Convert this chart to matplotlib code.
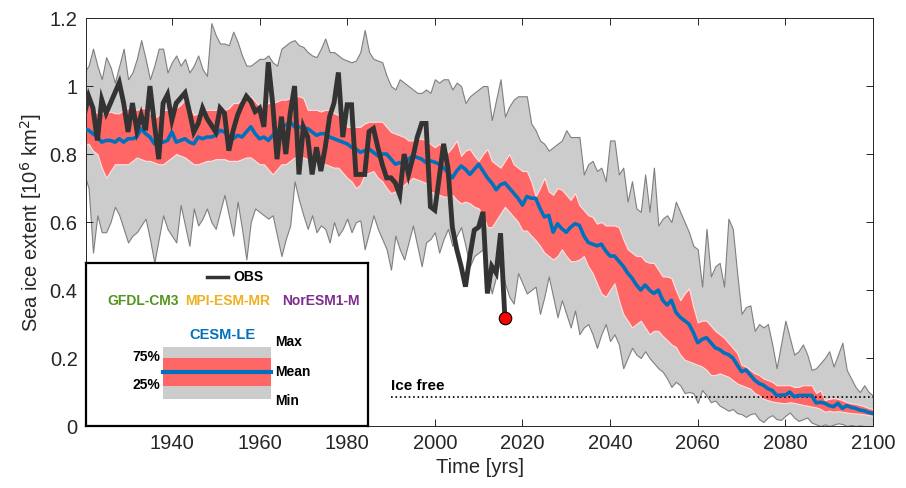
import numpy as np
from matplotlib import pyplot as plt

plt.rcParams['font.family'] = ['Liberation Sans', 'DejaVu Sans']

years = np.arange(1920, 2101)
obs_years = np.arange(1920, 2017)

# CESM-LE ensemble statistics (10^6 km^2)
ens_max = [1.04, 1.06, 1.11, 1.06, 1.02, 1.085, 1.056, 1.01, 1.06, 1.11,
           1.02, 1.04, 1.08, 1.135, 1.08, 1.02, 1.06, 1.11, 1.11, 1.04,
           1.07, 1.09, 1.06, 1.08, 1.04, 1.06, 1.09, 1.05, 1.03, 1.185,
           1.15, 1.125, 1.125, 1.12, 1.16, 1.13, 1.09, 1.06, 1.06, 1.07,
           1.08, 1.08, 1.09, 1.07, 1.06, 1.11, 1.12, 1.13, 1.135, 1.12,
           1.115, 1.10, 1.09, 1.085, 1.11, 1.14, 1.10, 1.10, 1.09, 1.08,
           1.075, 1.07, 1.075, 1.10, 1.165, 1.10, 1.08, 1.075, 1.07, 1.03,
           1.00, 0.99, 1.02, 1.01, 1.00, 0.99, 0.98, 0.98, 0.99, 0.98,
           1.02, 1.01, 1.02, 1.02, 0.99, 1.01, 1.00, 0.95, 0.97, 0.98,
           0.99, 1.00, 1.00, 0.90, 0.96, 1.02, 0.91, 0.94, 0.96, 0.97,
           0.97, 0.97, 0.89, 0.87, 0.84, 0.83, 0.81, 0.82, 0.83, 0.84,
           0.87, 0.85, 0.85, 0.85, 0.74, 0.77, 0.78, 0.75, 0.76, 0.72,
           0.84, 0.84, 0.74, 0.76, 0.66, 0.72, 0.64, 0.63, 0.74, 0.63,
           0.76, 0.59, 0.61, 0.62, 0.60, 0.66, 0.63, 0.60, 0.57, 0.53,
           0.52, 0.41, 0.58, 0.44, 0.47, 0.48, 0.41, 0.61, 0.58, 0.45,
           0.33, 0.35, 0.355, 0.28, 0.30, 0.29, 0.30, 0.24, 0.17, 0.24,
           0.31, 0.26, 0.21, 0.22, 0.24, 0.21, 0.165, 0.17, 0.185, 0.20,
           0.22, 0.175, 0.21, 0.245, 0.165, 0.14, 0.115, 0.10, 0.12, 0.10,
           0.09]
ens_q75 = [0.95, 0.95, 0.93, 0.92, 0.92, 0.92, 0.925, 0.92, 0.92, 0.93,
           0.935, 0.935, 0.93, 0.935, 0.935, 0.92, 0.905, 0.915, 0.93, 0.93,
           0.93, 0.935, 0.945, 0.96, 0.94, 0.915, 0.92, 0.925, 0.93, 0.93,
           0.93, 0.935, 0.93, 0.935, 0.95, 0.95, 0.96, 0.97, 0.97, 0.955,
           0.94, 0.94, 0.95, 0.95, 0.955, 0.96, 0.96, 0.965, 0.97, 0.97,
           0.965, 0.93, 0.93, 0.93, 0.925, 0.93, 0.93, 0.92, 0.915, 0.90,
           0.88, 0.88, 0.88, 0.88, 0.89, 0.895, 0.895, 0.895, 0.895, 0.88,
           0.865, 0.86, 0.855, 0.85, 0.84, 0.84, 0.845, 0.845, 0.84, 0.83,
           0.82, 0.83, 0.82, 0.805, 0.82, 0.84, 0.795, 0.81, 0.815, 0.795,
           0.78, 0.80, 0.815, 0.78, 0.77, 0.76, 0.78, 0.80, 0.77, 0.76,
           0.75, 0.75, 0.72, 0.675, 0.70, 0.73, 0.69, 0.68, 0.70, 0.695,
           0.68, 0.665, 0.685, 0.65, 0.635, 0.62, 0.615, 0.595, 0.60, 0.59,
           0.59, 0.59, 0.585, 0.55, 0.52, 0.51, 0.50, 0.50, 0.485, 0.48,
           0.48, 0.46, 0.44, 0.44, 0.435, 0.40, 0.37, 0.39, 0.405, 0.35,
           0.305, 0.31, 0.31, 0.295, 0.28, 0.27, 0.26, 0.245, 0.23, 0.215,
           0.18, 0.175, 0.165, 0.155, 0.15, 0.14, 0.135, 0.13, 0.12, 0.12,
           0.12, 0.12, 0.115, 0.115, 0.12, 0.12, 0.12, 0.097, 0.105, 0.076,
           0.08, 0.082, 0.08, 0.076, 0.07, 0.067, 0.065, 0.062, 0.058, 0.053,
           0.05]
ens_mean = [0.875, 0.87, 0.86, 0.85, 0.835, 0.84, 0.84, 0.835, 0.845, 0.835,
            0.845, 0.845, 0.85, 0.875, 0.86, 0.85, 0.83, 0.835, 0.835, 0.84,
            0.865, 0.835, 0.84, 0.845, 0.835, 0.83, 0.85, 0.845, 0.85, 0.85,
            0.855, 0.87, 0.865, 0.85, 0.845, 0.855, 0.85, 0.865, 0.88, 0.86,
            0.845, 0.85, 0.84, 0.855, 0.87, 0.88, 0.885, 0.895, 0.88, 0.88,
            0.875, 0.875, 0.865, 0.855, 0.86, 0.86, 0.85, 0.845, 0.84, 0.835,
            0.83, 0.82, 0.815, 0.805, 0.81, 0.815, 0.805, 0.795, 0.80, 0.80,
            0.785, 0.77, 0.775, 0.77, 0.785, 0.795, 0.79, 0.785, 0.775, 0.78,
            0.776, 0.77, 0.76, 0.745, 0.73, 0.75, 0.765, 0.755, 0.74, 0.755,
            0.77, 0.75, 0.73, 0.715, 0.695, 0.71, 0.715, 0.70, 0.685, 0.67,
            0.65, 0.675, 0.67, 0.67, 0.64, 0.615, 0.62, 0.57, 0.595, 0.58,
            0.57, 0.585, 0.595, 0.59, 0.56, 0.54, 0.535, 0.53, 0.535, 0.515,
            0.50, 0.50, 0.485, 0.47, 0.45, 0.435, 0.415, 0.40, 0.415, 0.40,
            0.39, 0.40, 0.37, 0.356, 0.37, 0.335, 0.32, 0.31, 0.30, 0.275,
            0.245, 0.255, 0.26, 0.245, 0.23, 0.225, 0.215, 0.21, 0.20, 0.18,
            0.16, 0.165, 0.15, 0.135, 0.125, 0.12, 0.11, 0.105, 0.09, 0.091,
            0.091, 0.10, 0.086, 0.09, 0.09, 0.09, 0.09, 0.068, 0.07, 0.067,
            0.06, 0.057, 0.067, 0.052, 0.06, 0.055, 0.052, 0.047, 0.045, 0.04,
            0.037]
ens_q25 = [0.83, 0.83, 0.81, 0.80, 0.76, 0.73, 0.75, 0.77, 0.77, 0.77,
           0.77, 0.78, 0.79, 0.785, 0.78, 0.78, 0.775, 0.77, 0.77, 0.78,
           0.79, 0.80, 0.795, 0.79, 0.78, 0.77, 0.77, 0.775, 0.78, 0.78,
           0.785, 0.785, 0.785, 0.78, 0.78, 0.78, 0.785, 0.79, 0.79, 0.78,
           0.77, 0.77, 0.755, 0.74, 0.755, 0.77, 0.77, 0.78, 0.79, 0.79,
           0.79, 0.785, 0.78, 0.775, 0.77, 0.77, 0.765, 0.76, 0.76, 0.745,
           0.73, 0.72, 0.70, 0.71, 0.74, 0.745, 0.75, 0.73, 0.72, 0.70,
           0.685, 0.69, 0.70, 0.71, 0.72, 0.73, 0.725, 0.72, 0.715, 0.69,
           0.685, 0.68, 0.675, 0.675, 0.68, 0.665, 0.655, 0.66, 0.655, 0.645,
           0.64, 0.62, 0.585, 0.585, 0.605, 0.625, 0.645, 0.63, 0.615, 0.60,
           0.575, 0.575, 0.56, 0.547, 0.53, 0.51, 0.50, 0.49, 0.50, 0.52,
           0.50, 0.485, 0.485, 0.49, 0.50, 0.47, 0.45, 0.42, 0.39, 0.38,
           0.40, 0.42, 0.37, 0.33, 0.31, 0.29, 0.30, 0.31, 0.29, 0.27,
           0.28, 0.28, 0.265, 0.253, 0.24, 0.233, 0.21, 0.195, 0.19, 0.185,
           0.18, 0.175, 0.165, 0.15, 0.15, 0.155, 0.15, 0.145, 0.135, 0.125,
           0.12, 0.115, 0.11, 0.097, 0.09, 0.08, 0.076, 0.072, 0.07, 0.068,
           0.067, 0.07, 0.068, 0.065, 0.062, 0.06, 0.057, 0.055, 0.05, 0.042,
           0.045, 0.042, 0.044, 0.042, 0.04, 0.038, 0.037, 0.036, 0.034, 0.032,
           0.03]
ens_min = [0.74, 0.70, 0.51, 0.62, 0.57, 0.57, 0.60, 0.645, 0.62, 0.58,
           0.54, 0.56, 0.57, 0.59, 0.61, 0.55, 0.48, 0.55, 0.62, 0.58,
           0.56, 0.54, 0.65, 0.59, 0.53, 0.64, 0.59, 0.61, 0.64, 0.60,
           0.58, 0.63, 0.68, 0.62, 0.56, 0.66, 0.58, 0.49, 0.60, 0.64,
           0.63, 0.62, 0.61, 0.62, 0.56, 0.50, 0.55, 0.59, 0.72, 0.665,
           0.62, 0.58, 0.62, 0.57, 0.59, 0.58, 0.54, 0.60, 0.56, 0.58,
           0.61, 0.57, 0.60, 0.605, 0.52, 0.57, 0.62, 0.58, 0.55, 0.52,
           0.46, 0.56, 0.52, 0.49, 0.54, 0.59, 0.53, 0.47, 0.54, 0.55,
           0.57, 0.51, 0.55, 0.58, 0.53, 0.56, 0.585, 0.53, 0.47, 0.50,
           0.51, 0.52, 0.45, 0.39, 0.44, 0.49, 0.42, 0.38, 0.36, 0.45,
           0.42, 0.39, 0.40, 0.41, 0.33, 0.38, 0.44, 0.38, 0.32, 0.37,
           0.33, 0.29, 0.34, 0.27, 0.29, 0.30, 0.27, 0.23, 0.27, 0.30,
           0.25, 0.27, 0.24, 0.17, 0.20, 0.23, 0.21, 0.20, 0.22, 0.20,
           0.185, 0.17, 0.16, 0.14, 0.115, 0.13, 0.12, 0.097, 0.10, 0.097,
           0.068, 0.106, 0.09, 0.07, 0.075, 0.06, 0.053, 0.045, 0.05, 0.038,
           0.035, 0.027, 0.035, 0.038, 0.02, 0.012, 0.025, 0.032, 0.02, 0.018,
           0.03, 0.04, 0.025, 0.015, 0.02, 0.025, 0.01, 0.005, 0.0, 0.005,
           0.0, 0.004, 0.008, 0.006, 0.0, 0.003, 0.0, 0.002, 0.0, 0.0,
           0.0]

# observations
obs = [0.915, 0.97, 0.935, 0.84, 0.96, 0.92, 0.95, 0.98, 1.01, 0.95,
       0.865, 0.95, 0.87, 0.915, 0.87, 1.00, 0.89, 0.785, 0.95, 0.975,
       0.90, 0.95, 0.965, 0.98, 0.925, 0.865, 0.89, 0.935, 0.905, 0.885,
       0.865, 0.935, 0.92, 0.81, 0.87, 0.915, 0.945, 0.97, 0.955, 0.925,
       0.935, 0.88, 1.07, 0.95, 0.785, 0.91, 0.80, 0.92, 1.00, 0.74,
       0.88, 0.85, 0.74, 0.82, 0.75, 0.82, 0.91, 0.95, 1.04, 0.85,
       0.945, 0.945, 0.74, 0.74, 0.74, 0.866, 0.875, 0.82, 0.77, 0.73,
       0.73, 0.715, 0.68, 0.80, 0.74,
       0.79, 0.85, 0.89, 0.89, 0.645, 0.635, 0.73, 0.83, 0.76, 0.585,
       0.52, 0.47, 0.41, 0.50, 0.576, 0.585, 0.63, 0.39, 0.47, 0.45,
       0.567, 0.317]

ice_free = 0.085

fig = plt.figure(figsize=(9.06, 4.88), dpi=100)
ax = fig.add_axes([0.0949, 0.127, 0.8687, 0.836])

ax.fill_between(years, ens_min, ens_max, facecolor='#cccccc', edgecolor='#7f7f7f', linewidth=0.8, zorder=1)
ax.fill_between(years, ens_q25, ens_q75, facecolor='#ff6666', edgecolor='#ffe0e0', linewidth=0.8, zorder=2)
ax.plot([1990, 2100], [ice_free, ice_free], ':', color='black', lw=1.2, zorder=3)
ax.plot(years, ens_mean, color='#0072bd', lw=2.6, zorder=4)
ax.plot(obs_years, obs, color='#333333', lw=3.5, zorder=5, solid_joinstyle='miter')
ax.plot(obs_years[-1], obs[-1], 'o', ms=9, mfc='red', mec='black', mew=0.8, zorder=6)
ax.text(1990, ice_free + 0.012, 'Ice free', fontsize=11, fontweight='bold', va='bottom', ha='left', zorder=6)

ax.set_xlim(1920.4, 2100)
ax.set_ylim(0, 1.2)
ax.set_xticks(np.arange(1940, 2101, 20))
ax.set_yticks([0, 0.2, 0.4, 0.6, 0.8, 1, 1.2])
ax.set_yticklabels(['0', '0.2', '0.4', '0.6', '0.8', '1', '1.2'])
ax.tick_params(direction='in', top=True, right=True, length=5, width=0.7,
               color='#262626', labelcolor='#262626', labelsize=14.5, pad=6)
for s in ax.spines.values():
    s.set_color('#262626')
    s.set_linewidth(0.7)
ax.set_xlabel('Time [yrs]', fontsize=14.5, color='#262626', labelpad=3)
ax.set_ylabel('Sea ice extent [10$^6$ km$^2$]', fontsize=14.5, color='#262626', labelpad=4)

# legend box (pixel coordinates, origin at the top left)
lg = fig.add_axes([86 / 906, 62 / 488, 282 / 906, 163 / 488])
lg.set_xlim(0, 282)
lg.set_ylim(163, 0)
lg.set_xticks([])
lg.set_yticks([])
lg.set_zorder(10)
for s in lg.spines.values():
    s.set_color('black')
    s.set_linewidth(1.6)

lg.plot([121, 142], [14, 14], color='#333333', lw=2.5)
lg.text(147, 14, 'OBS', fontsize=10, fontweight='bold', va='center', ha='left')
lg.text(21, 38, 'GFDL-CM3', color='#55941e', fontsize=10, fontweight='bold', va='center')
lg.text(99, 38, 'MPI-ESM-MR', color='#edb120', fontsize=10, fontweight='bold', va='center')
lg.text(196, 38, 'NorESM1-M', color='#7e2f8e', fontsize=10, fontweight='bold', va='center')
lg.text(136, 72, 'CESM-LE', color='#0072bd', fontsize=10.5, fontweight='bold', va='center', ha='center')
lg.fill_between([77, 185], 84, 136, color='#cccccc', lw=0)
lg.fill_between([77, 185], 95, 123, color='#ff6666', lw=0)
lg.plot([77, 185], [109, 109], color='#0072bd', lw=3)
lg.text(74, 94, '75%', fontsize=10, fontweight='bold', ha='right', va='center')
lg.text(74, 122, '25%', fontsize=10, fontweight='bold', ha='right', va='center')
lg.text(189, 79, 'Max', fontsize=10, fontweight='bold', ha='left', va='center')
lg.text(189, 109, 'Mean', fontsize=10, fontweight='bold', ha='left', va='center')
lg.text(189, 138, 'Min', fontsize=10, fontweight='bold', ha='left', va='center')

fig.savefig('out.png', dpi=100)
